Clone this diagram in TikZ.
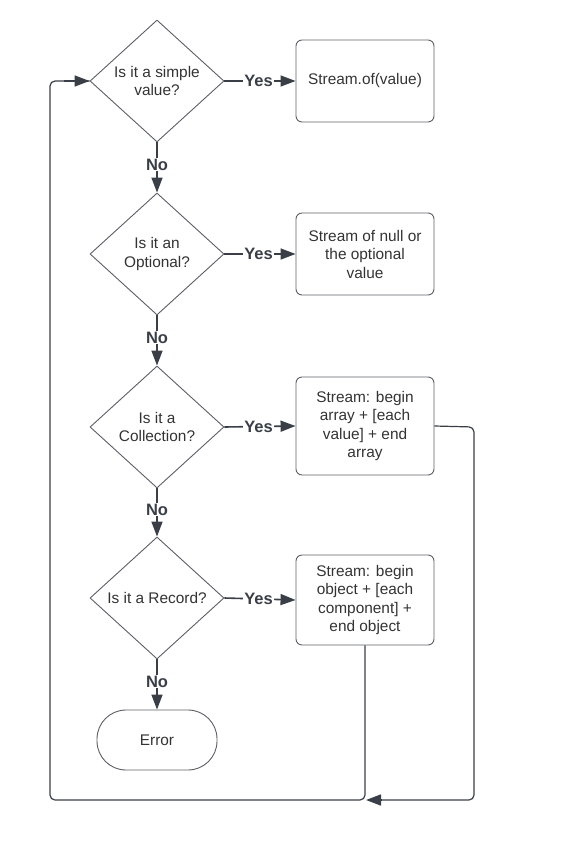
\documentclass[tikz,border=0pt]{standalone}
\usepackage{fontspec}
\setmainfont{Liberation Sans}
\usetikzlibrary{shapes.geometric,arrows.meta}
\definecolor{ink}{HTML}{3A3F47}
\definecolor{edge}{HTML}{5C5F66}
\definecolor{txt}{HTML}{333333}
\begin{document}
\begin{tikzpicture}[x=1pt,y=-1pt,
  font=\fontsize{15.4}{18.5}\selectfont, text=txt,
  dia/.style={diamond, draw=edge, line width=0.9pt, minimum width=134pt, minimum height=122pt, inner sep=0pt, fill=white},
  lbl/.style={align=center, inner sep=0pt},
  actbox/.style={rectangle, rounded corners=6pt, draw=edge, line width=0.9pt, minimum width=138pt, align=center, inner sep=0pt},
  endbox/.style={rectangle, rounded corners=29pt, draw=edge, line width=0.9pt, minimum width=120pt, minimum height=60pt},
  conn/.style={draw=ink, line width=1.6pt, -{Triangle[length=15pt,width=11pt]}},
  loop/.style={draw=ink, line width=1.2pt, rounded corners=5pt},
  yes/.style={fill=white, inner sep=1pt, font=\fontsize{16.5}{18}\selectfont\bfseries, text=ink},
]
\useasboundingbox (0,0) rectangle (568,843);

% decisions
\node[dia] (d1) at (157,81) {};
\node[lbl] (t1) at (d1.center) {Is it a simple\\value?};
\node[dia] (d2) at (157,254) {};
\node[lbl] (t2) at (d2.center) {Is it an\\Optional?};
\node[dia] (d3) at (157,427) {};
\node[lbl] (t3) at (d3.center) {Is it a\\Collection?};
\node[dia] (d4) at (157,598) {};
\node[lbl] (t4) at (d4.center) {Is it a Record?};

% actions
\node[actbox, minimum height=82pt] (b1) at (365,81) {Stream.of(value)};
\node[actbox, minimum height=82pt] (b2) at (365,254) {Stream of null or\\the optional\\value};
\node[actbox, minimum height=98pt] (b3) at (365,426) {Stream: begin\\array + [each\\value] + end\\array};
\node[actbox, minimum height=90pt] (b4) at (365,600) {Stream: begin\\object + [each\\component] +\\end object};

\node[endbox] (err) at (157,740) {Error};

% yes branches
\draw[conn] (d1.east) -- node[yes, pos=0.48] {Yes} (b1.west);
\draw[conn] (d2.east) -- node[yes, pos=0.48] {Yes} (b2.west);
\draw[conn] (d3.east) -- node[yes, pos=0.48] {Yes} (b3.west);
\draw[conn] (d4.east) -- node[yes, pos=0.48] {Yes} (b4.west);

% no branches
\draw[conn] (d1.south) -- node[yes, pos=0.44] {No} (d2.north);
\draw[conn] (d2.south) -- node[yes, pos=0.44] {No} (d3.north);
\draw[conn] (d3.south) -- node[yes, pos=0.44] {No} (d4.north);
\draw[conn] (d4.south) -- node[yes, pos=0.44] {No} (err.north);

% loop back to the first decision
\coordinate (lb) at (50,800);
\coordinate (lt) at (50,81);
\coordinate (rb) at (474,800);
\coordinate (rt) at (474,427);
\coordinate (join) at (366,800);
\draw[loop] (b4.south) -- (b4.south |- lb) -- (lb) -- (lt) -- (d1.west);
\draw[conn] (lt) ++(14,0) -- (d1.west);
\draw[loop] (b3.east) -- (rt) -- (rb) -- ([xshift=14pt]join);
\draw[conn] ([xshift=16pt]join) -- (join);
\end{tikzpicture}
\end{document}
